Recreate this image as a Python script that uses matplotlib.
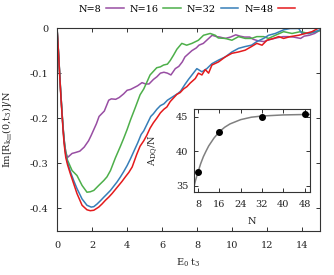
import numpy as np
import matplotlib
matplotlib.use("Agg")
import matplotlib.pyplot as plt

plt.rcParams['font.family'] = 'DejaVu Serif'
plt.rcParams['mathtext.fontset'] = 'dejavuserif'
plt.rcParams['mathtext.default'] = 'regular'
plt.rcParams['axes.unicode_minus'] = False

# main panel: Im[R](0,t3)/N vs E0 t3 for each N
t_n8 = [0, 0.05, 0.1, 0.15, 0.2, 0.25, 0.3, 0.35, 0.4, 0.45, 0.5, 0.6, 0.86, 1.05, 1.3, 1.55,
        1.8, 1.95, 2.1, 2.25, 2.4, 2.55, 2.7, 2.95, 3.1, 3.35, 3.55, 3.8, 4.0, 4.2, 4.4,
        4.6, 4.85, 5.05, 5.25, 5.5, 5.7, 5.9, 6.1, 6.3, 6.5, 6.75, 6.95, 7.15, 7.3, 7.5,
        7.7, 7.95, 8.1, 8.35, 8.6, 8.85, 9.1, 9.3, 9.6, 9.9, 10.2, 10.45, 10.7, 11.0,
        11.2, 11.45, 11.8, 12.1, 12.5, 12.9, 13.2, 13.5, 13.9, 14.1, 14.4, 14.7, 15.0]
v_n8 = [0, -0.03, -0.065, -0.1, -0.135, -0.165, -0.195, -0.222, -0.245, -0.262, -0.275,
        -0.287, -0.278, -0.276, -0.273, -0.264, -0.25, -0.238, -0.225, -0.212, -0.196,
        -0.19, -0.184, -0.16, -0.157, -0.158, -0.154, -0.146, -0.138, -0.136, -0.132,
        -0.128, -0.121, -0.124, -0.124, -0.114, -0.108, -0.1, -0.098, -0.1, -0.104,
        -0.09, -0.085, -0.075, -0.064, -0.057, -0.05, -0.044, -0.038, -0.034, -0.025,
        -0.016, -0.019, -0.02, -0.023, -0.02, -0.015, -0.018, -0.02, -0.02, -0.025,
        -0.028, -0.03, -0.026, -0.022, -0.019, -0.019, -0.02, -0.023, -0.018, -0.016,
        -0.012, -0.005]

t_n16 = [0, 0.05, 0.1, 0.15, 0.2, 0.25, 0.3, 0.35, 0.4, 0.45, 0.5, 0.6, 0.86, 1.14, 1.43,
         1.71, 1.9, 2.1, 2.38, 2.67, 2.85, 3.05, 3.33, 3.62, 3.8, 4.0, 4.2, 4.45, 4.74,
         4.95, 5.15, 5.31, 5.5, 5.69, 5.9, 6.08, 6.3, 6.46, 6.65, 6.84, 7.12, 7.4, 7.7,
         8.07, 8.36, 8.74, 9.03, 9.2, 9.6, 9.98, 10.36, 10.74, 11.1, 11.4, 11.79, 12.07,
         12.46, 12.93, 13.41, 13.89, 14.36, 14.74, 15.0]
v_n16 = [0, -0.03, -0.065, -0.1, -0.135, -0.165, -0.195, -0.222, -0.245, -0.262, -0.275,
         -0.293, -0.316, -0.327, -0.349, -0.364, -0.363, -0.36, -0.349, -0.338, -0.33,
         -0.316, -0.288, -0.262, -0.245, -0.225, -0.203, -0.178, -0.148, -0.135, -0.118,
         -0.104, -0.096, -0.088, -0.086, -0.082, -0.08, -0.072, -0.06, -0.047, -0.034,
         -0.038, -0.034, -0.027, -0.016, -0.012, -0.016, -0.022, -0.023, -0.027, -0.019,
         -0.023, -0.023, -0.019, -0.019, -0.023, -0.016, -0.008, -0.012, -0.008, -0.012,
         -0.008, -0.006]

t_n32 = [0, 0.05, 0.1, 0.15, 0.2, 0.25, 0.3, 0.35, 0.4, 0.45, 0.5, 0.6, 0.76, 0.95, 1.14,
         1.43, 1.71, 1.95, 2.1, 2.29, 2.5, 2.67, 2.85, 3.05, 3.25, 3.43, 3.62, 3.81, 4.0,
         4.19, 4.4, 4.6, 4.8, 4.95, 5.15, 5.35, 5.5, 5.7, 5.9, 6.1, 6.3, 6.5, 6.7, 6.9,
         7.05, 7.3, 7.5, 7.7, 7.98, 8.27, 8.55, 8.84, 9.22, 9.6, 9.98, 10.36, 10.74, 11.1,
         11.4, 11.79, 12.07, 12.46, 12.93, 13.31, 13.79, 13.98, 14.36, 14.74, 15.0]
v_n32 = [0, -0.03, -0.065, -0.1, -0.135, -0.166, -0.197, -0.225, -0.249, -0.267, -0.281,
         -0.298, -0.318, -0.338, -0.356, -0.379, -0.393, -0.397, -0.396, -0.39, -0.382,
         -0.375, -0.368, -0.36, -0.35, -0.341, -0.33, -0.318, -0.305, -0.29, -0.272,
         -0.255, -0.236, -0.228, -0.212, -0.196, -0.19, -0.18, -0.172, -0.168, -0.16,
         -0.155, -0.15, -0.145, -0.14, -0.125, -0.114, -0.104, -0.09, -0.097, -0.09,
         -0.079, -0.071, -0.064, -0.053, -0.045, -0.041, -0.038, -0.03, -0.023, -0.016,
         -0.012, -0.004, -0.001, -0.001, -0.012, -0.012, -0.008, -0.004]

t_n48 = [0, 0.05, 0.1, 0.15, 0.2, 0.25, 0.3, 0.35, 0.4, 0.45, 0.5, 0.6, 0.76, 0.95, 1.14,
         1.43, 1.71, 1.9, 2.1, 2.38, 2.57, 2.76, 2.95, 3.14, 3.33, 3.52, 3.71, 3.9, 4.1,
         4.29, 4.55, 4.74, 4.95, 5.12, 5.31, 5.5, 5.69, 5.9, 6.1, 6.27, 6.46, 6.65, 6.84,
         7.03, 7.22, 7.41, 7.6, 7.89, 8.07, 8.27, 8.46, 8.65, 8.84, 9.22, 9.6, 9.98, 10.36,
         10.74, 11.1, 11.4, 11.7, 11.98, 12.36, 12.65, 12.93, 13.31, 13.79, 14.17, 14.55,
         14.93, 15.0]
v_n48 = [0, -0.031, -0.067, -0.103, -0.138, -0.17, -0.2, -0.229, -0.254, -0.272, -0.287,
         -0.303, -0.323, -0.345, -0.367, -0.393, -0.403, -0.405, -0.404, -0.397, -0.39,
         -0.382, -0.375, -0.367, -0.358, -0.349, -0.34, -0.33, -0.32, -0.308, -0.28,
         -0.262, -0.25, -0.238, -0.222, -0.21, -0.2, -0.188, -0.18, -0.175, -0.163,
         -0.155, -0.147, -0.143, -0.135, -0.13, -0.122, -0.112, -0.1, -0.104, -0.092,
         -0.1, -0.082, -0.075, -0.064, -0.056, -0.053, -0.049, -0.041, -0.034, -0.038,
         -0.027, -0.023, -0.019, -0.023, -0.019, -0.016, -0.012, -0.008, 0.0, 0.0]

labels = ['N=8', 'N=16', 'N=32', 'N=48']
colors = ['#984ea3', '#4daf4a', '#377eb8', '#e41a1c']

xticks = [0, 2, 4, 6, 8, 10, 12, 14]
yticks = [-0.4, -0.3, -0.2, -0.1, 0]
ytick_labels = ['-0.4', '-0.3', '-0.2', '-0.1', '0']

# inset: A_DQ/N vs N
n_points = [8, 16, 32, 48]
adq_points = [37.0, 42.8, 45.0, 45.3]
n_fit = [6.5, 7, 8, 9, 10, 11, 12, 14, 16, 18, 20, 24, 28, 32, 40, 48, 50]
adq_fit = [34.9, 35.7, 37.0, 38.2, 39.2, 40.0, 40.75, 41.9, 42.8, 43.45, 43.93, 44.55,
           44.9, 45.07, 45.23, 45.29, 45.3]
inset_xticks = [8, 16, 24, 32, 40, 48]
inset_yticks = [35, 40, 45]

fig = plt.figure(figsize=(3.34, 2.75), dpi=100)
ax = fig.add_axes([0.1707, 0.16, 0.787, 0.738])

series = [(t_n8, v_n8), (t_n16, v_n16), (t_n32, v_n32), (t_n48, v_n48)]
for (t, v), lab, c in zip(series, labels, colors):
    ax.plot(t, v, color=c, lw=1.1, label=lab)

ax.set_xlim(0, 15)
ax.set_ylim(-0.45, 0.0)
ax.set_xticks(xticks)
ax.set_yticks(yticks)
ax.set_yticklabels(ytick_labels)
ax.tick_params(direction='in', length=3, width=0.7, labelsize=7, top=True, right=True,
               colors='#333333', labelcolor='#222222')
ax.tick_params(axis='x', pad=7)
ax.tick_params(axis='y', pad=6)
for s in ax.spines.values():
    s.set_linewidth(0.8)
    s.set_color('#333333')
ax.set_xlabel('E$_0$ t$_3$', fontsize=7, color='#222222')
ax.xaxis.set_label_coords(0.5, -0.125)
ax.set_ylabel('Im[R$_{k_{III}}$(0,t$_3$)]/N', fontsize=7, color='#222222')
ax.yaxis.set_label_coords(-0.16, 0.5)

leg = ax.legend(loc='center', bbox_to_anchor=(0.56, 0.967), bbox_transform=fig.transFigure,
                ncol=4, frameon=False, fontsize=7, markerfirst=False, handlelength=1.8,
                handletextpad=0.5, columnspacing=0.6, borderpad=0)

ins = fig.add_axes([0.581, 0.302, 0.347, 0.302])
ins.plot(n_fit, adq_fit, color='#808080', lw=1.1)
ins.plot(n_points, adq_points, 'o', color='black', ms=4)
ins.set_xlim(6.5, 50)
ins.set_ylim(34.1, 46.1)
ins.set_xticks(inset_xticks)
ins.set_yticks(inset_yticks)
ins.tick_params(direction='in', length=3, width=0.7, labelsize=7, top=True, right=True,
                colors='#333333', labelcolor='#222222')
ins.tick_params(axis='x', pad=6)
ins.tick_params(axis='y', pad=4)
for s in ins.spines.values():
    s.set_linewidth(0.8)
    s.set_color('#333333')
ins.set_xlabel('N', fontsize=7, color='#222222')
ins.xaxis.set_label_coords(0.5, -0.3)
ins.set_ylabel('A$_{DQ}$/N', fontsize=7, color='#222222')
ins.yaxis.set_label_coords(-0.29, 0.5)

fig.savefig('out.png', dpi=100)
